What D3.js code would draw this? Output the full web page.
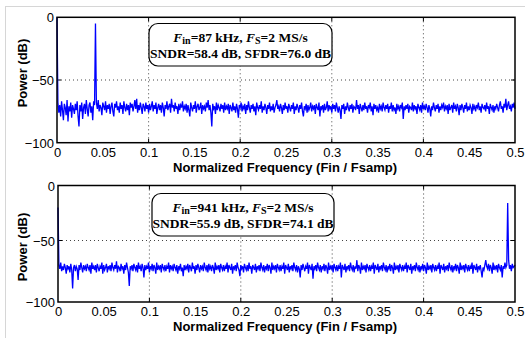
<!DOCTYPE html>
<html>
<head>
<meta charset="utf-8">
<script src="https://cdn.jsdelivr.net/npm/d3@7"></script>
<style>
  body { margin: 0; background: #fff; }
  svg { display: block; }
  .tick-label { font-family: 'Liberation Sans', Arial, sans-serif; font-size: 13px; fill: #000; }
  .axis-title { font-family: 'Liberation Sans', Arial, sans-serif; font-size: 13px; font-weight: bold; fill: #000; }
  .note { font-family: 'Liberation Serif', 'Times New Roman', serif; font-size: 13.5px; font-weight: bold; fill: #000; }
  .grid line { stroke: #444; stroke-width: 1; stroke-dasharray: 1,3; }
</style>
</head>
<body>
<div id="chart"></div>
<script>
// ------------------------------------------
//  Data (FFT bins, step 0.001 of Fsamp)
// ------------------------------------------
const binStep = 0.001
const xTicks = [0, 0.05, 0.1, 0.15, 0.2, 0.25, 0.3, 0.35, 0.4, 0.45, 0.5]
const gridX = [0.1, 0.2, 0.3, 0.4]
const yTicks = [0, -50, -100]

// 87 kHz input
const spectrumTop = [
  0,
  -68, -76, -70, -79, -67, -74, -82, -69, -72, -78, -66, -83, -71, -75, -68, -80, -70, -73, -77, -69,
  -74, -67, -79, -87, -70, -75, -68, -81, -72, -69, -77, -66, -73, -79, -70, -68, -76, -71, -82, -67,
  -70, -5, -68, -73, -66, -75, -70, -72, -78, -68, -71, -74, -67, -76, -70, -73, -69, -77, -71, -68,
  -75, -79, -69, -72, -67, -74, -71, -76, -68, -73, -70, -77, -67, -72, -75, -69, -74, -70, -78, -68,
  -72, -69, -75, -71, -66, -73, -65, -76, -70, -74, -68, -72, -77, -69, -71, -75, -68, -73, -70, -76,
  -69, -74, -71, -67, -75, -70, -73, -68, -77, -72, -69, -74, -70, -76, -68, -72, -79, -70, -73, -67,
  -74, -71, -69, -76, -65, -72, -70, -75, -68, -73, -71, -77, -69, -74, -70, -72, -67, -75, -71, -73,
  -69, -76, -70, -74, -79, -68, -72, -75, -70, -73, -67, -76, -71, -69, -74, -72, -68, -77, -70, -73,
  -71, -75, -68, -72, -66, -74, -70, -76, -87, -69, -73, -71, -77, -68, -74, -70, -72, -75, -69, -73,
  -70, -76, -68, -74, -71, -73, -69, -77, -70, -72, -75, -68, -74, -71, -76, -69, -73, -80, -70, -72,
  -68, -75, -71, -73, -69, -77, -70, -74, -67, -72, -76, -70, -73, -69, -75, -71, -78, -68, -72, -74,
  -70, -73, -67, -76, -71, -74, -69, -72, -77, -70, -73, -68, -75, -71, -74, -69, -76, -72, -70, -66,
  -73, -71, -75, -69, -72, -77, -70, -74, -68, -73, -71, -76, -69, -72, -75, -70, -73, -68, -77, -71,
  -74, -69, -72, -76, -70, -73, -68, -75, -79, -71, -73, -69, -76, -70, -74, -72, -68, -75, -71, -73,
  -70, -77, -69, -72, -74, -68, -79, -71, -73, -70, -76, -69, -74, -72, -67, -75, -70, -73, -71, -76,
  -69, -73, -70, -75, -68, -72, -76, -71, -74, -81, -70, -73, -69, -77, -71, -74, -68, -72, -75, -70,
  -73, -69, -76, -71, -72, -74, -66, -73, -70, -77, -69, -72, -75, -70, -74, -68, -73, -71, -76, -70,
  -72, -68, -75, -71, -78, -69, -73, -70, -74, -72, -76, -69, -73, -71, -75, -68, -72, -74, -70, -73,
  -69, -76, -71, -73, -68, -75, -70, -74, -72, -77, -69, -73, -71, -75, -70, -72, -68, -81, -71, -74,
  -70, -73, -69, -76, -71, -72, -74, -68, -75, -70, -73, -71, -77, -69, -72, -74, -70, -76, -68, -73,
  -71, -74, -69, -72, -76, -70, -73, -79, -71, -74, -68, -72, -75, -70, -73, -69, -76, -71, -74, -70,
  -72, -68, -75, -71, -73, -70, -77, -69, -74, -72, -70, -76, -68, -73, -71, -75, -69, -72, -78, -70,
  -74, -69, -72, -76, -70, -73, -68, -75, -71, -74, -70, -72, -77, -69, -73, -71, -75, -70, -72, -68,
  -74, -71, -76, -69, -72, -73, -70, -75, -68, -73, -71, -77, -69, -72, -74, -70, -76, -71, -73, -69,
  -72, -75, -70, -67, -73, -71, -76, -69, -72, -65, -74, -70, -67, -73, -71, -75, -69, -72, -68, -73
]

// 941 kHz input
const spectrumBottom = [
  -20,
  -70, -73, -68, -75, -71, -74, -69, -72, -77, -70, -73, -71, -76, -69, -74, -89, -72, -70, -75, -71,
  -73, -82, -70, -74, -68, -72, -76, -70, -73, -71, -75, -69, -72, -74, -70, -77, -68, -73, -71, -74,
  -70, -76, -69, -72, -75, -71, -73, -68, -77, -70, -74, -72, -69, -76, -71, -73, -70, -75, -68, -72,
  -74, -70, -73, -67, -76, -71, -72, -75, -69, -73, -71, -77, -70, -74, -68, -72, -76, -87, -71, -73,
  -70, -75, -69, -72, -74, -70, -76, -68, -73, -71, -75, -69, -72, -80, -70, -74, -71, -73, -68, -76,
  -71, -73, -69, -75, -70, -72, -77, -68, -74, -71, -73, -70, -76, -69, -72, -74, -70, -75, -71, -73,
  -68, -76, -70, -73, -71, -75, -69, -72, -74, -70, -77, -71, -73, -69, -75, -72, -79, -70, -74, -71,
  -73, -69, -76, -70, -72, -75, -68, -73, -71, -77, -70, -74, -69, -72, -76, -70, -73, -71, -75, -68,
  -72, -74, -70, -76, -69, -73, -71, -75, -70, -72, -77, -68, -74, -71, -73, -70, -76, -69, -72, -74,
  -70, -75, -71, -73, -68, -76, -70, -72, -74, -69, -77, -71, -73, -70, -75, -68, -72, -74, -79, -70,
  -73, -71, -76, -69, -72, -74, -70, -75, -68, -73, -71, -77, -70, -72, -74, -69, -76, -71, -73, -70,
  -75, -68, -72, -74, -70, -76, -71, -73, -69, -75, -70, -72, -77, -68, -74, -71, -73, -70, -76, -69,
  -72, -74, -70, -75, -71, -73, -68, -77, -70, -72, -74, -69, -76, -71, -73, -70, -75, -68, -72, -74,
  -70, -76, -71, -73, -80, -70, -74, -69, -72, -75, -71, -73, -68, -77, -70, -72, -74, -69, -81, -71,
  -73, -70, -75, -68, -72, -74, -70, -76, -71, -73, -69, -75, -70, -72, -77, -68, -74, -71, -73, -70,
  -76, -69, -72, -74, -70, -75, -71, -73, -68, -80, -70, -72, -74, -69, -76, -71, -73, -70, -75, -68,
  -72, -74, -70, -76, -71, -73, -66, -75, -70, -72, -77, -68, -74, -71, -73, -70, -76, -69, -72, -74,
  -70, -75, -71, -73, -68, -77, -70, -72, -74, -69, -76, -71, -73, -70, -75, -68, -72, -74, -70, -76,
  -71, -73, -69, -75, -70, -72, -77, -68, -74, -71, -73, -70, -76, -69, -72, -74, -70, -75, -71, -73,
  -68, -76, -70, -72, -74, -69, -77, -71, -73, -70, -75, -68, -72, -74, -70, -76, -71, -73, -69, -75,
  -70, -72, -77, -68, -74, -71, -73, -70, -76, -69, -72, -74, -70, -75, -71, -73, -68, -77, -70, -72,
  -74, -69, -76, -71, -73, -70, -75, -68, -72, -74, -70, -76, -71, -73, -69, -75, -70, -72, -77, -68,
  -74, -71, -73, -70, -76, -69, -72, -74, -70, -75, -71, -73, -68, -77, -70, -72, -74, -69, -76, -71,
  -73, -70, -75, -80, -72, -74, -70, -66, -71, -73, -69, -75, -70, -72, -77, -68, -74, -71, -73, -70,
  -76, -69, -72, -74, -70, -80, -71, -73, -68, -72, -70, -16, -66, -73, -70, -75, -69, -72, -71, -70
]

const notesTop = { fin: '87 kHz', fs: '2 MS/s', sndr: '58.4', sfdr: '76.0' }
const notesBottom = { fin: '941 kHz', fs: '2 MS/s', sndr: '55.9', sfdr: '74.1' }

// ------------------------------------------
//  Canvas
// ------------------------------------------
const W = 525, H = 338
const svg = d3.select('#chart').append('svg').attr('width', W).attr('height', H)

svg.append('rect').attr('width', W).attr('height', H).attr('fill', '#fff')
// light outer frame of the figure
svg.append('rect')
  .attr('x', 5.5).attr('y', 6.5).attr('width', W).attr('height', H)
  .attr('fill', 'none').attr('stroke', '#d6d6d6')

// ------------------------------------------
//  One spectrum panel
// ------------------------------------------
function drawPanel(values, notes, box) {
  const x = d3.scaleLinear().domain([0, 0.5]).range([box.left, box.right])
  const y = d3.scaleLinear().domain([-100, -50, 0]).range([box.bottom, box.mid, box.top])
  const g = svg.append('g')

  // grid
  const grid = g.append('g').attr('class', 'grid')
  grid.selectAll('.gx').data(gridX).enter().append('line')
    .attr('x1', d => x(d)).attr('x2', d => x(d))
    .attr('y1', box.top).attr('y2', box.bottom)
  grid.append('line')
    .attr('x1', box.left).attr('x2', box.right)
    .attr('y1', y(-50)).attr('y2', y(-50))

  // inward ticks
  const tk = 4
  gridX.forEach(d => {
    g.append('line').attr('x1', x(d)).attr('x2', x(d)).attr('y1', box.bottom).attr('y2', box.bottom - tk).attr('stroke', '#000')
    g.append('line').attr('x1', x(d)).attr('x2', x(d)).attr('y1', box.top).attr('y2', box.top + tk).attr('stroke', '#000')
  })
  g.append('line').attr('x1', box.left).attr('x2', box.left + tk).attr('y1', y(-50)).attr('y2', y(-50)).attr('stroke', '#000')
  g.append('line').attr('x1', box.right).attr('x2', box.right - tk).attr('y1', y(-50)).attr('y2', y(-50)).attr('stroke', '#000')

  // spectrum
  const line = d3.line().x((d, i) => x(i * binStep)).y(d => y(d))
  g.append('path')
    .datum(values)
    .attr('d', line)
    .attr('fill', 'none')
    .attr('stroke', '#0000ff')
    .attr('stroke-width', 1.3)

  // frame
  g.append('rect')
    .attr('x', box.left).attr('y', box.top)
    .attr('width', box.right - box.left).attr('height', box.bottom - box.top)
    .attr('fill', 'none').attr('stroke', '#000').attr('stroke-width', 1.5)

  // axes labels
  const ax = g.append('g')
    .attr('transform', `translate(0,${box.bottom})`)
    .call(d3.axisBottom(x).tickValues(xTicks).tickSize(0).tickPadding(0).tickFormat(d3.format('~g')))
  ax.select('.domain').remove()
  ax.selectAll('text').attr('class', 'tick-label').attr('font-size', null).attr('font-family', null)
    .attr('dy', null).attr('y', box.tickY - box.bottom)

  const ay = g.append('g')
    .attr('transform', `translate(${box.left - 3},0)`)
    .call(d3.axisLeft(y).tickValues(yTicks).tickSize(0).tickPadding(0))
  ay.select('.domain').remove()
  ay.selectAll('text').attr('class', 'tick-label').attr('font-size', null).attr('font-family', null)
    .attr('dy', '0.35em')

  g.append('text').attr('class', 'axis-title')
    .attr('x', 285).attr('y', box.titleY)
    .attr('text-anchor', 'middle')
    .text('Normalized Frequency (Fin / Fsamp)')

  g.append('text').attr('class', 'axis-title')
    .attr('transform', `translate(${box.ylabelX},${box.ylabelY}) rotate(-90)`)
    .attr('text-anchor', 'middle')
    .text('Power (dB)')

  // annotation box
  const nb = box.note
  g.append('rect')
    .attr('x', nb.x0).attr('y', nb.y0)
    .attr('width', nb.x1 - nb.x0).attr('height', nb.y1 - nb.y0)
    .attr('rx', 9).attr('ry', 9)
    .attr('fill', '#fff').attr('stroke', '#000').attr('stroke-width', 1.2)

  const cx = (nb.x0 + nb.x1) / 2
  const t1 = g.append('text').attr('class', 'note').attr('x', cx).attr('y', nb.line1).attr('text-anchor', 'middle')
  t1.append('tspan').attr('font-style', 'italic').text('F')
  t1.append('tspan').attr('dy', 2.5).attr('font-size', 10).text('in')
  t1.append('tspan').attr('dy', -2.5).text(`=${notes.fin}, `)
  t1.append('tspan').attr('font-style', 'italic').text('F')
  t1.append('tspan').attr('dy', 2.5).attr('font-size', 10).text('S')
  t1.append('tspan').attr('dy', -2.5).text(`=${notes.fs}`)

  g.append('text').attr('class', 'note').attr('x', cx).attr('y', nb.line2).attr('text-anchor', 'middle')
    .text(`SNDR=${notes.sndr} dB, SFDR=${notes.sfdr} dB`)
}

drawPanel(spectrumTop, notesTop, {
  left: 57, right: 515, top: 17.3, mid: 80, bottom: 142.7,
  tickY: 157, titleY: 172, ylabelX: 27, ylabelY: 73,
  note: { x0: 149, x1: 332, y0: 23.5, y1: 66, line1: 41.5, line2: 57.5 }
})

drawPanel(spectrumBottom, notesBottom, {
  left: 58, right: 515, top: 185.5, mid: 240.5, bottom: 302,
  tickY: 316, titleY: 331, ylabelX: 27, ylabelY: 247,
  note: { x0: 152, x1: 334, y0: 193.5, y1: 236, line1: 211.5, line2: 227.5 }
})
</script>
</body>
</html>
